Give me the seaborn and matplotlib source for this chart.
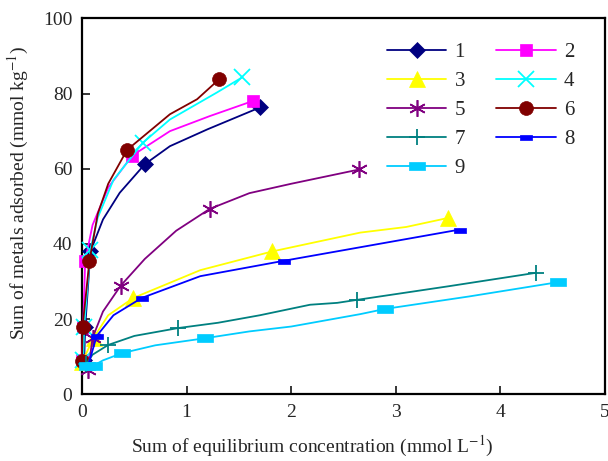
import numpy as np
import pandas as pd
import seaborn as sns
import matplotlib.pyplot as plt

# series data (x: mmol/L, y: mmol/kg)
x1 = [0.02, 0.03, 0.08, 0.2, 0.36, 0.6, 0.84, 1.2, 1.7]
y1 = [9, 18, 38, 46.5, 53.6, 61.2, 66, 70.5, 76.3]
x2 = [0.0, 0.01, 0.03, 0.1, 0.25, 0.48, 0.84, 1.22, 1.63]
y2 = [9, 18, 35.5, 45, 55, 63.5, 70, 74, 78]
x3 = [0.0, 0.11, 0.25, 0.49, 1.13, 1.82, 2.66, 3.1, 3.5]
y3 = [8.5, 15, 21, 25.6, 33, 38, 43, 44.5, 46.9]
x4 = [0.01, 0.02, 0.08, 0.15, 0.3, 0.58, 0.84, 1.29, 1.53]
y4 = [9, 18, 38.5, 47, 57, 66.9, 73.1, 80.3, 84.3]
x5 = [0.06, 0.1, 0.2, 0.37, 0.6, 0.9, 1.22, 1.6, 2.0, 2.65]
y5 = [6.5, 15, 22, 28.9, 36, 43.5, 49.3, 53.5, 56, 59.8]
x6 = [0.0, 0.005, 0.07, 0.15, 0.25, 0.43, 0.84, 1.1, 1.31]
y6 = [8.7, 18, 35.4, 48, 56, 65, 74.5, 78.5, 83.8]
x7 = [0.04, 0.1, 0.25, 0.5, 0.92, 1.3, 1.7, 2.18, 2.44, 2.63, 3.5, 4.34]
y7 = [8, 10.5, 13.1, 15.5, 17.6, 19, 21, 23.8, 24.3, 25.1, 28.7, 32.3]
x8 = [0.06, 0.14, 0.3, 0.57, 1.13, 1.93, 2.72, 3.61]
y8 = [7.8, 15.5, 21, 25.6, 31.4, 35.5, 39.4, 43.8]
x9 = [0.05, 0.11, 0.2, 0.38, 0.7, 1.18, 1.6, 2.0, 2.66, 2.9, 3.7, 4.55]
y9 = [7.5, 7.6, 9, 10.9, 13, 14.9, 16.7, 18, 21.3, 22.7, 26, 29.8]

# which points carry a marker
marks1 = [0, 1, 2, 5, 8]
marks2 = [0, 1, 2, 5, 8]
marks3 = [0, 1, 3, 5, 8]
marks4 = [0, 1, 2, 5, 8]
marks5 = [0, 1, 3, 6, 9]
marks6 = [0, 1, 2, 5, 8]
marks7 = [0, 2, 4, 9, 11]
marks8 = [0, 1, 3, 5, 7]
marks9 = [0, 1, 3, 5, 9, 11]

labels = ['1', '2', '3', '4', '5', '6', '7', '8', '9']

sns.set_style("ticks")
plt.rcParams['font.family'] = ['Liberation Serif', 'DejaVu Serif']
plt.rcParams['mathtext.fontset'] = 'stix'

dash = [(-1, -0.45), (1, -0.45), (1, 0.45), (-1, 0.45), (-1, -0.45)]
styles = [
    dict(color='#000080', marker='D', ms=8),
    dict(color='#FF00FF', marker='s', ms=9),
    dict(color='#FFFF00', marker='^', ms=11),
    dict(color='#00FFFF', marker='x', ms=11, mew=1.3),
    dict(color='#800080', marker=(6, 2, 0), ms=12, mew=1.2),
    dict(color='#800000', marker='o', ms=10),
    dict(color='#008080', marker='+', ms=12, mew=1.3),
    dict(color='#0000FF', marker=dash, ms=8),
    dict(color='#00CCFF', marker=dash, ms=12),
]
series = [(x1, y1, marks1), (x2, y2, marks2), (x3, y3, marks3),
          (x4, y4, marks4), (x5, y5, marks5), (x6, y6, marks6),
          (x7, y7, marks7), (x8, y8, marks8), (x9, y9, marks9)]

fig = plt.figure(figsize=(6.08, 4.61), dpi=100)
ax = fig.add_axes([0.135, 0.145, 0.86, 0.815])

for (xs, ys, mk), st, lab in zip(series, styles, labels):
    df = pd.DataFrame({'x': xs, 'y': ys})
    sns.lineplot(data=df, x='x', y='y', ax=ax, estimator=None, sort=False,
                 color=st['color'], lw=1.3, marker=st['marker'],
                 markersize=st['ms'], markevery=mk, clip_on=False,
                 markeredgecolor=st['color'], markerfacecolor=st['color'],
                 markeredgewidth=st.get('mew', 0.5), label=lab)

ax.set_xlim(0, 5)
ax.set_ylim(0, 100)
ax.set_xticks(range(0, 6))
ax.set_yticks(range(0, 101, 20))
ax.tick_params(direction='in', length=6, width=1.3, labelsize=14,
               top=False, right=False, pad=7)
for sp in ax.spines.values():
    sp.set_linewidth(1.6)
    sp.set_color('black')
    sp.set_zorder(1)

ax.set_xlabel('Sum of equilibrium concentration (mmol L$^{-1}$)', fontsize=14)
ax.set_ylabel('Sum of metals adsorbed (mmol kg$^{-1}$)', fontsize=14)
ax.xaxis.set_label_coords(0.44, -0.105)
ax.yaxis.set_label_coords(-0.097, 0.535)

# legend filled row-wise: 1 2 / 3 4 / ...
handles, labs = ax.get_legend_handles_labels()
order = [0, 2, 4, 6, 8, 1, 3, 5, 7]
ax.legend([handles[i] for i in order], [labs[i] for i in order], ncol=2,
          frameon=False, fontsize=15, loc='upper left',
          bbox_to_anchor=(0.555, 0.975), handlelength=2.85, handletextpad=0.4,
          columnspacing=1.5, labelspacing=0.45, borderaxespad=0.3)

fig.savefig('out.png', dpi=100)
